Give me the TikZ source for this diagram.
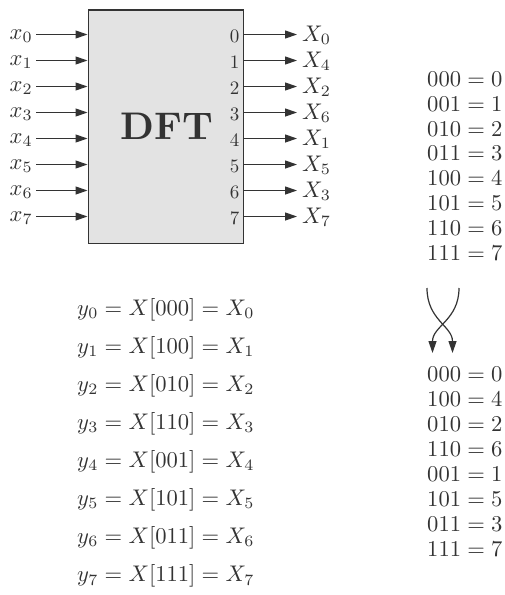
\documentclass[tikz,border=0pt]{standalone}
\usepackage{graphicx}
\usetikzlibrary{arrows.meta}
\definecolor{ink}{gray}{0.2}
\definecolor{boxfill}{gray}{0.89}
\newcommand{\sctext}[1]{\scalebox{2.26}{#1}}
\newcommand{\scnum}[1]{\scalebox{1.9}{#1}}
\tikzset{
  arr/.style={draw=ink, line width=1.2pt, -{Triangle[length=12pt,width=8pt]}},
  txt/.style={inner sep=0pt, text=ink},
  num/.style={inner sep=0pt, text=ink, anchor=base east},
}
\begin{document}
\begin{tikzpicture}[x=1pt,y=-1pt]
\useasboundingbox (0,0) rectangle (505,595);
\node[draw=ink, fill=boxfill, line width=1.2pt, minimum width=155.5pt, minimum height=233.4pt,
      inner sep=0pt, anchor=north west] (box) at (87.5,9.3) {};
\node[text=ink, inner sep=0pt, anchor=base] (dft) at (166.7,139.3) {\scalebox{3.85}{\bfseries DFT}};
\foreach \i/\o in {0/0,1/4,2/2,3/6,4/1,5/5,6/3,7/7} {
  \pgfmathsetmacro\yy{34.5+26*\i}
  \coordinate (in\i) at (36,\yy);
  \node[txt, anchor=base east] (xl\i) at (33,\yy+4.5) {\sctext{$x_{\i}$}};
  \draw[arr] (in\i) -- (in\i -| box.west);
  \node[num] (n\i) at (239.5,\yy+7.5) {\scnum{\i}};
  \coordinate (out\i) at (297,\yy);
  \draw[arr] (out\i -| box.east) -- (out\i);
  \node[txt, anchor=base west] (X\i) at (302,\yy+7) {\sctext{$X_{\o}$}};
}
\foreach \a/\b [count=\k from 0] in {000/0,001/1,010/2,011/3,100/4,101/5,110/6,111/7} {
  \node[txt, anchor=base west] (t\k) at (427,86.5+24.8*\k) {\sctext{$\a=\b$}};
}
\foreach \a/\b [count=\k from 0] in {000/0,100/4,010/2,110/6,001/1,101/5,011/3,111/7} {
  \node[txt, anchor=base west] (b\k) at (427,381+25*\k) {\sctext{$\a=\b$}};
}
\coordinate (c1s) at (427,288); \coordinate (c1e) at (452.5,353);
\coordinate (c2s) at (459,288); \coordinate (c2e) at (432.5,353);
\draw[arr] (c1s) .. controls (427,320) and (452.5,326) .. (c1e);
\draw[arr] (c2s) .. controls (459,320) and (432.5,326) .. (c2e);
\foreach \b [count=\k from 0] in {000,100,010,110,001,101,011,111} {
  \node[txt, anchor=base west] (e\k) at (77,315+38.1*\k) {\sctext{$y_{\k}=X[\b]=X_{\k}$}};
}
\end{tikzpicture}
\end{document}
